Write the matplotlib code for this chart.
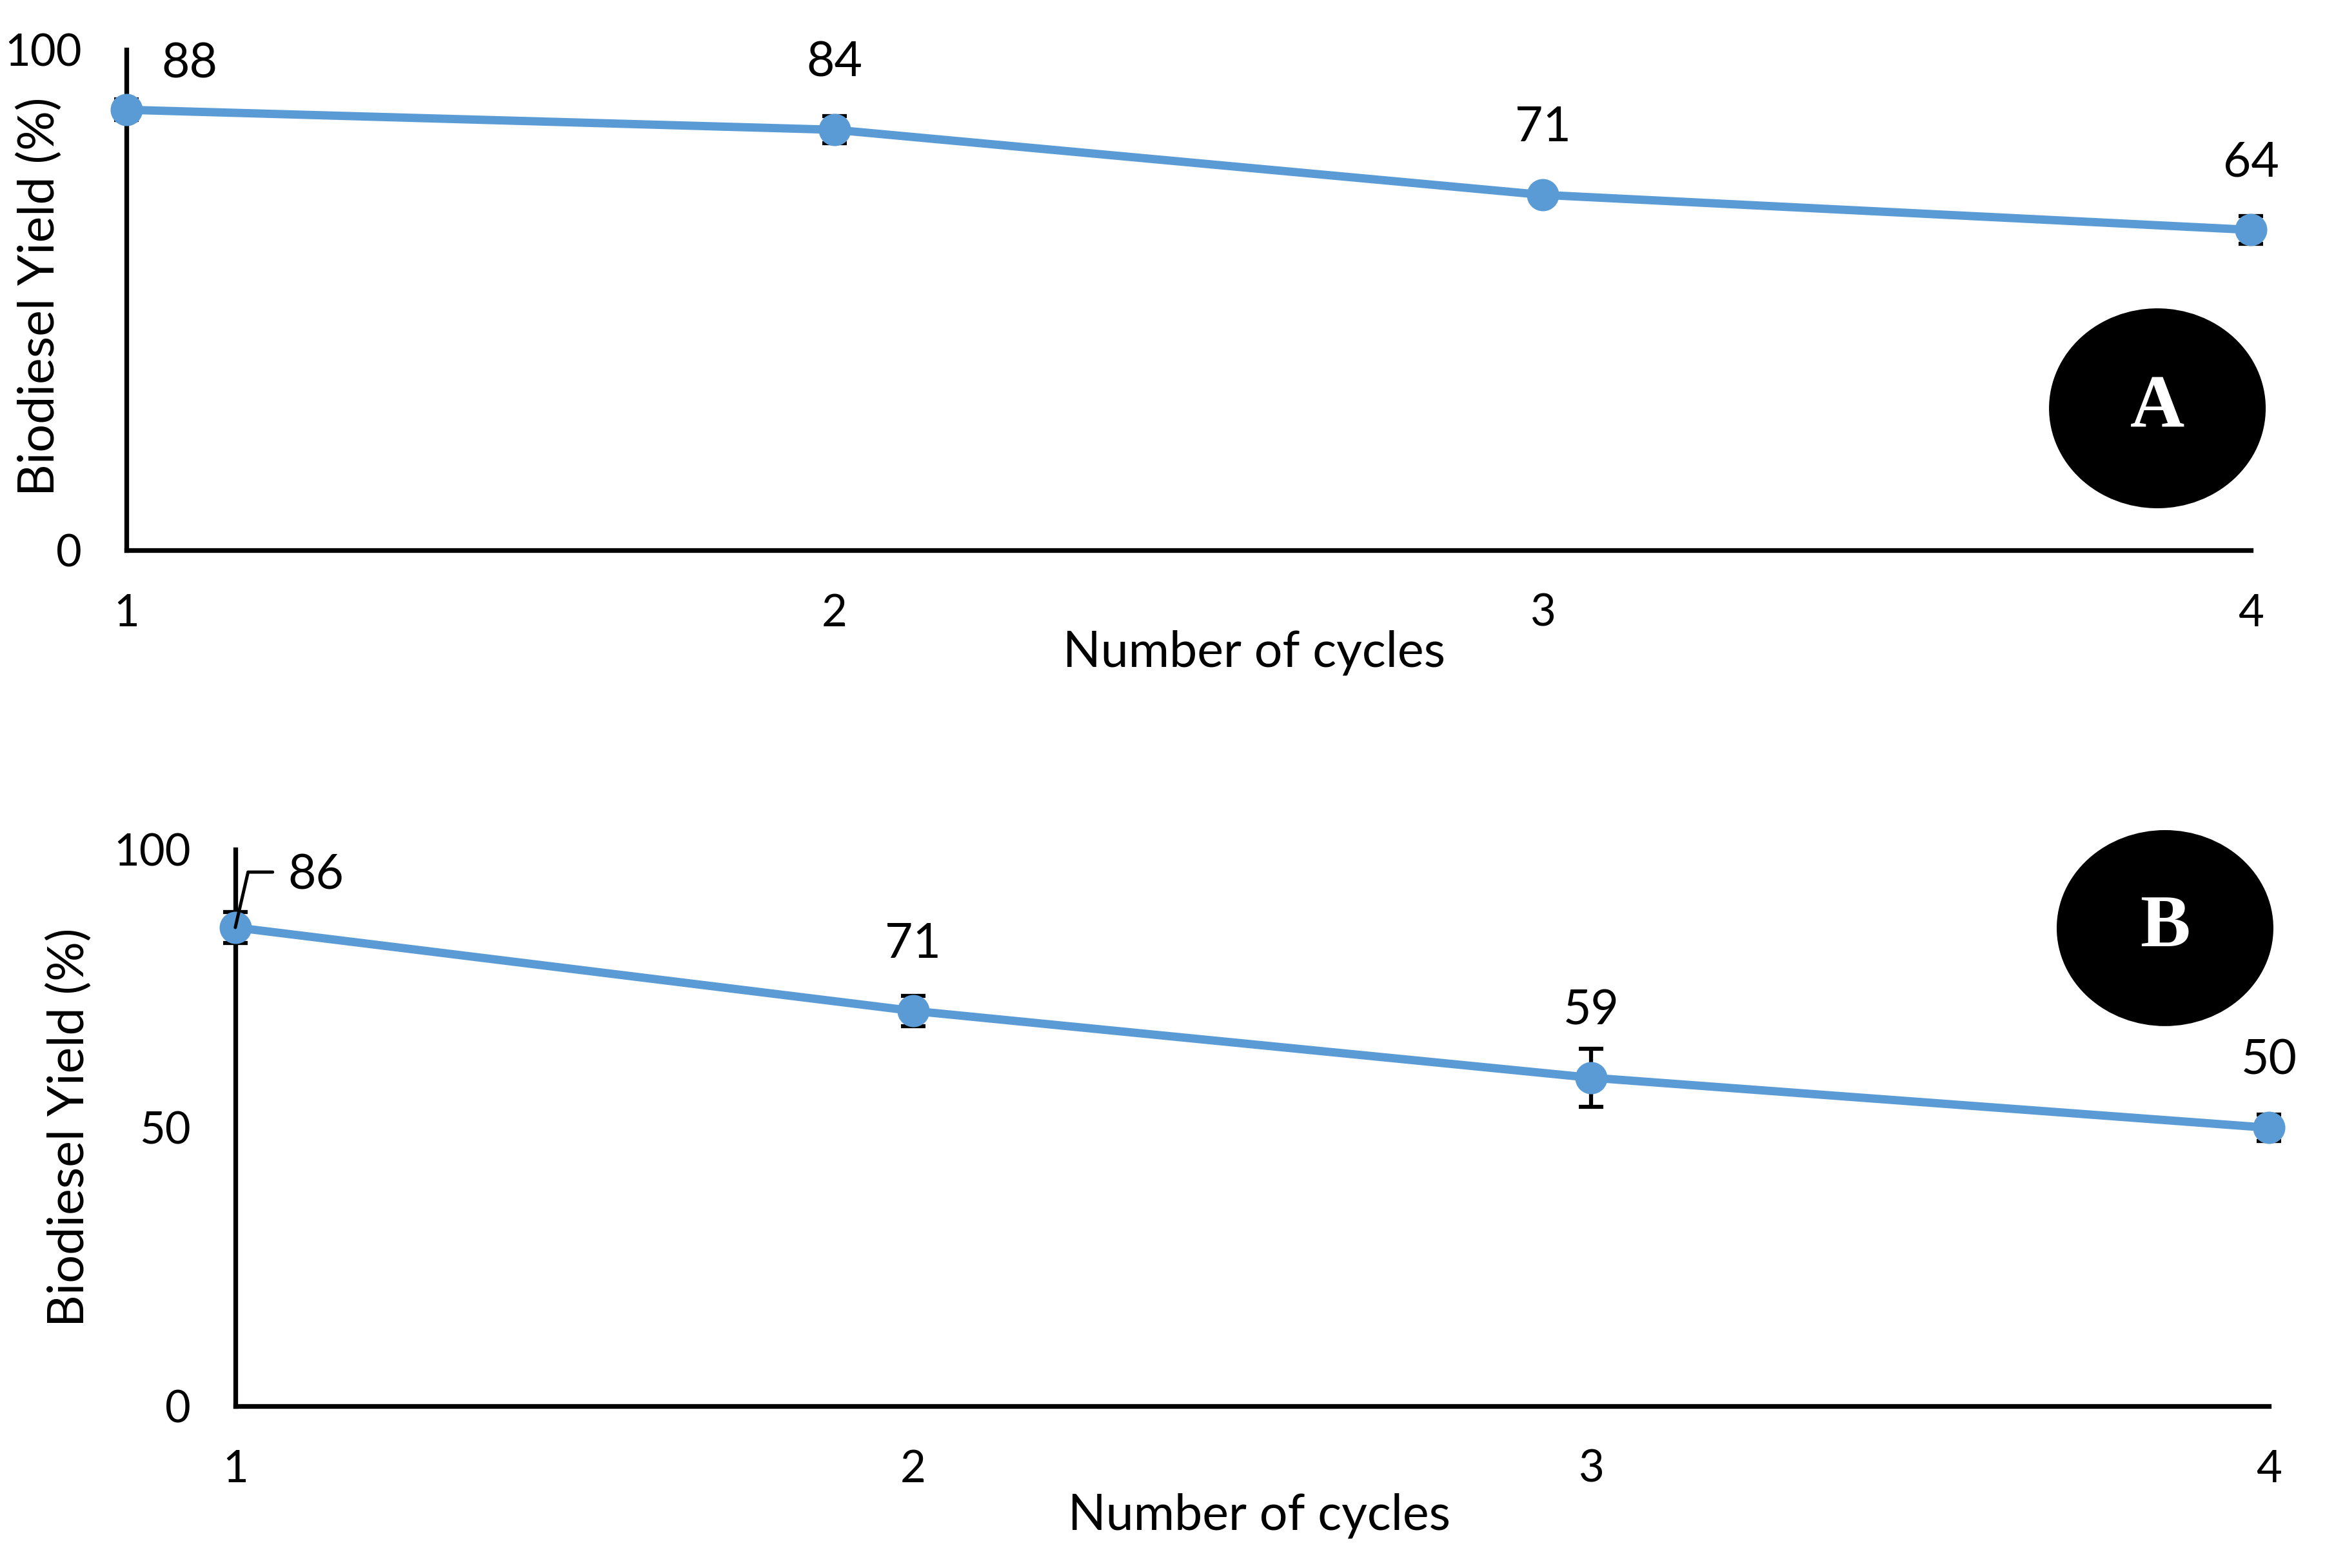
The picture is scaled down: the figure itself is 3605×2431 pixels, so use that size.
# Biodiesel yield over reuse cycles, two panels (A and B)

import numpy as np
import matplotlib
matplotlib.use('Agg')
import matplotlib.pyplot as plt
from matplotlib.patches import Ellipse

# Data

cycles = [1, 2, 3, 4]

yield_a = [88, 84, 71, 64]
err_a = [2.1, 2.7, 1.5, 2.8]

yield_b = [86, 71, 59, 50]
err_b = [2.8, 2.7, 5.2, 2.4]

yticks_a = [0, 100]
yticks_b = [0, 50, 100]

line_col = '#5B9BD5'

plt.rcParams['font.family'] = ['Lato', 'DejaVu Sans']

# Creating figure
fig = plt.figure(figsize=(3605 / 300, 2431 / 300), dpi=300)

ax_a = fig.add_axes([0.0544, 0.6491, 0.9681 - 0.0544, 0.9683 - 0.6491])
ax_b = fig.add_axes([0.1012, 0.1033, 0.9759 - 0.1012, 0.4582 - 0.1033])


def draw_panel(ax, y, err, yticks):
    ax.errorbar(cycles, y, yerr=err, fmt='none', ecolor='black', elinewidth=1.5,
                capsize=4.6, capthick=1.5, zorder=2, clip_on=False)
    ax.plot(cycles, y, '-o', color=line_col, lw=3.1, ms=11, zorder=3, clip_on=False)
    ax.set_xlim(1, 4)
    ax.set_ylim(0, 100)
    ax.set_xticks(cycles)
    ax.set_yticks(yticks)
    for s in ['top', 'right']:
        ax.spines[s].set_visible(False)
    for s in ['left', 'bottom']:
        ax.spines[s].set_linewidth(1.75)
    ax.tick_params(axis='both', length=0, labelsize=16.5)
    ax.tick_params(axis='y', pad=16.5)
    ax.tick_params(axis='x', pad=16)


draw_panel(ax_a, yield_a, err_a, yticks_a)
draw_panel(ax_b, yield_b, err_b, yticks_b)

# Data labels
for i, (xv, yv) in enumerate(zip(cycles, yield_a)):
    off = (23.5, 17) if i == 0 else (0, 25)
    ax_a.annotate(str(yv), (xv, yv), xytext=off, textcoords='offset points',
                  ha='center', va='center', fontsize=18, annotation_clip=False)

for i, (xv, yv) in enumerate(zip(cycles, yield_b)):
    off = (30, 19.4) if i == 0 else (0, 25)
    ax_b.annotate(str(yv), (xv, yv), xytext=off, textcoords='offset points',
                  ha='center', va='center', fontsize=18, annotation_clip=False)

# leader line for the first label of panel B
ax_b.annotate('', xy=(cycles[0], yield_b[0]), xytext=(13.9, 20.6), textcoords='offset points',
              annotation_clip=False,
              arrowprops=dict(arrowstyle='-', color='black', lw=1.2, shrinkA=0, shrinkB=0,
                              connectionstyle='angle,angleA=180,angleB=77,rad=0'))

# Axis titles
fig.text(0.0172, 0.8108, 'Biodiesel Yield (%)', rotation=90, ha='center', va='center', fontsize=18.5)
fig.text(0.5395, 0.5837, 'Number of cycles', ha='center', va='center', fontsize=18.5)
fig.text(0.0300, 0.2810, 'Biodiesel Yield (%)', rotation=90, ha='center', va='center', fontsize=18.5)
fig.text(0.5415, 0.0334, 'Number of cycles', ha='center', va='center', fontsize=18.5)

# Panel badges
fig.add_artist(Ellipse((0.9279, 0.7396), 0.0932, 0.1275, transform=fig.transFigure,
                       facecolor='black', edgecolor='none'))
fig.text(0.9279, 0.7396, 'A', color='white', ha='center', va='center', fontsize=28,
         fontweight='bold', family=['Liberation Serif', 'DejaVu Serif'])
fig.add_artist(Ellipse((0.9312, 0.4081), 0.0932, 0.1250, transform=fig.transFigure,
                       facecolor='black', edgecolor='none'))
fig.text(0.9312, 0.4081, 'B', color='white', ha='center', va='center', fontsize=28,
         fontweight='bold', family=['Liberation Serif', 'DejaVu Serif'])

plt.savefig('out.png', dpi=300)
